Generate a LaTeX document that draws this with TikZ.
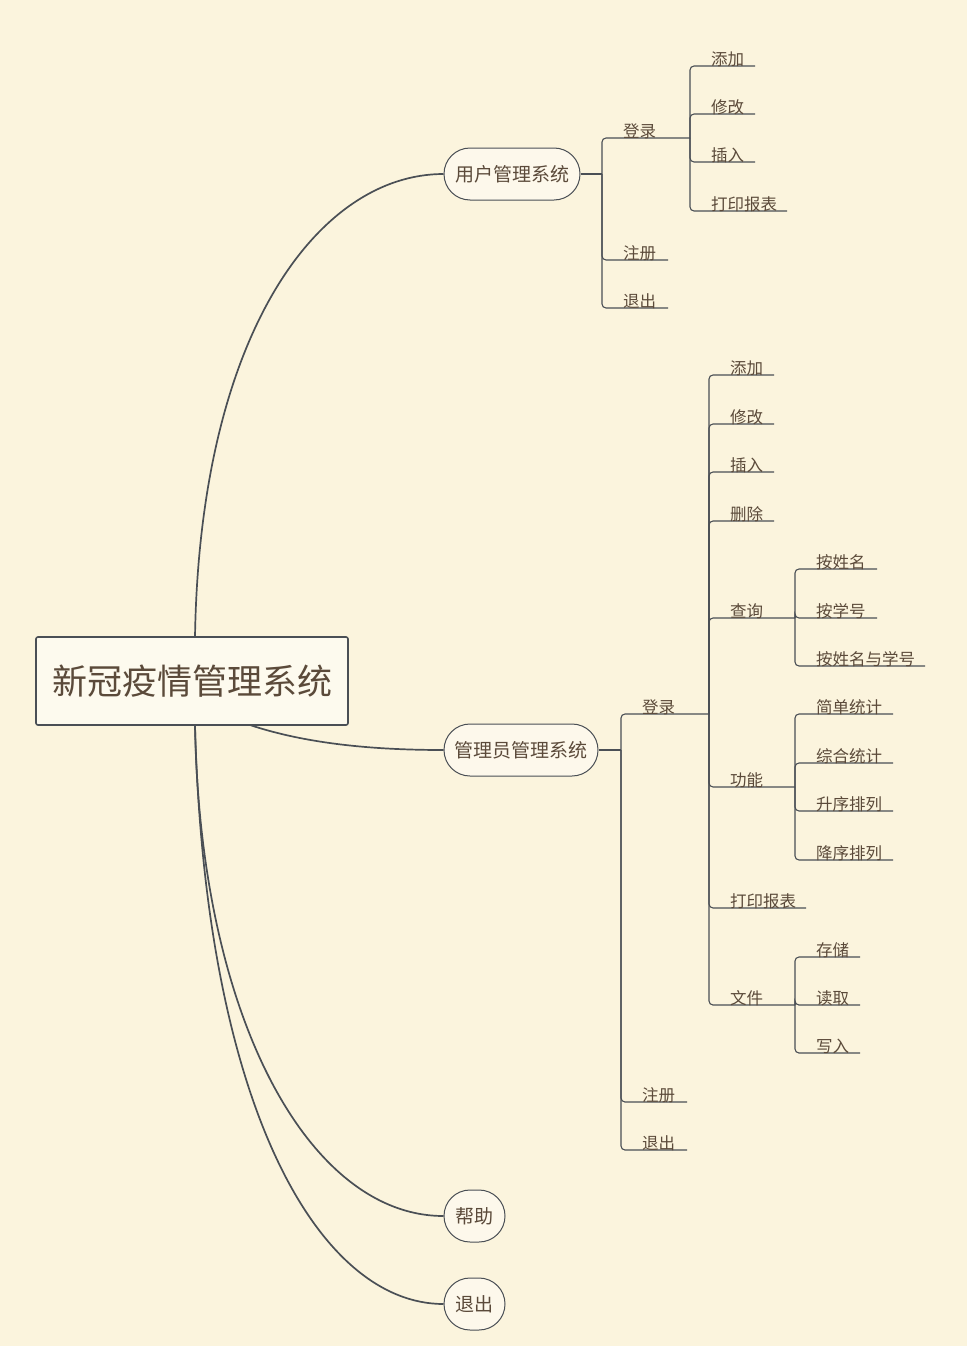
\documentclass[tikz,border=0pt]{standalone}
\usepackage{fontspec}
\setmainfont{Noto Sans CJK SC}
\definecolor{bg}{HTML}{FBF4DD}
\definecolor{ln}{HTML}{4A4F55}
\definecolor{tx}{HTML}{5B4A3A}
\newcommand\lf[6]{%
  \draw[br] (#1,#2) |- (#4,#3);
  \node[lab] (#6) at (#1+20,#3+2) {#5};}
\begin{document}
\begin{tikzpicture}[x=1pt,y=-1pt,
  br/.style={draw=ln,line width=1.1pt,rounded corners=4pt},
  lab/.style={anchor=south west,inner sep=1pt,text=tx,font=\fontsize{16.5}{18}\selectfont},
  pill/.style={draw=ln,line width=1pt,fill=bg!60!white,rounded corners=26pt,minimum height=52pt,text=tx,font=\fontsize{19}{21}\selectfont,inner xsep=10pt},
  cur/.style={draw=ln,line width=1.7pt}]
\fill[bg] (0,0) rectangle (967,1346);
\useasboundingbox (0,0) rectangle (967,1346);
\node[draw=ln,line width=1.6pt,fill=bg!50!white,rounded corners=2pt,minimum width=312pt,minimum height=88pt,text=tx,font=\fontsize{35}{38}\selectfont] (root) at (192,681) {新冠疫情管理系统};
\node[pill,minimum width=136pt] (u) at (512,174) {用户管理系统};
\node[pill,minimum width=154pt] (a) at (521,750) {管理员管理系统};
\node[pill,minimum width=61pt] (h) at (474.5,1216) {帮助};
\node[pill,minimum width=61pt] (q) at (474.5,1304) {退出};
\draw[cur] (195,637) .. controls (200,330) and (320,174) .. (u.west);
\draw[cur] (250,725) .. controls (310,745) and (380,750) .. (a.west);
\draw[cur] (195,725) .. controls (200,1020) and (310,1216) .. (h.west);
\draw[cur] (195,725) .. controls (205,1110) and (320,1304) .. (q.west);
% user
\draw[br] (u.east) -- (602,174);
\lf{602}{174}{138}{690}{登录}{u1}
\lf{602}{174}{260}{668}{注册}{u2}
\lf{602}{174}{308}{668}{退出}{u3}
\lf{690}{138}{66}{755}{添加}{u11}
\lf{690}{138}{114}{755}{修改}{u12}
\lf{690}{138}{162}{755}{插入}{u13}
\lf{690}{138}{211}{787}{打印报表}{u14}
% admin
\draw[br] (a.east) -- (621,750);
\lf{621}{750}{714}{709}{登录}{a1}
\lf{621}{750}{1102}{687}{注册}{a2}
\lf{621}{750}{1150}{687}{退出}{a3}
\lf{709}{714}{375}{774}{添加}{b1}
\lf{709}{714}{424}{774}{修改}{b2}
\lf{709}{714}{472}{774}{插入}{b3}
\lf{709}{714}{521}{774}{删除}{b4}
\lf{709}{714}{618}{795}{查询}{b5}
\lf{709}{714}{787}{795}{功能}{b6}
\lf{709}{714}{908}{806}{打印报表}{b7}
\lf{709}{714}{1005}{795}{文件}{b8}
\lf{795}{618}{569}{877}{按姓名}{c1}
\lf{795}{618}{618}{877}{按学号}{c2}
\lf{795}{618}{666}{925}{按姓名与学号}{c3}
\lf{795}{787}{714}{893}{简单统计}{d1}
\lf{795}{787}{763}{893}{综合统计}{d2}
\lf{795}{787}{811}{893}{升序排列}{d3}
\lf{795}{787}{860}{893}{降序排列}{d4}
\lf{795}{1005}{957}{860}{存储}{e1}
\lf{795}{1005}{1005}{860}{读取}{e2}
\lf{795}{1005}{1053}{860}{写入}{e3}
\end{tikzpicture}
\end{document}
